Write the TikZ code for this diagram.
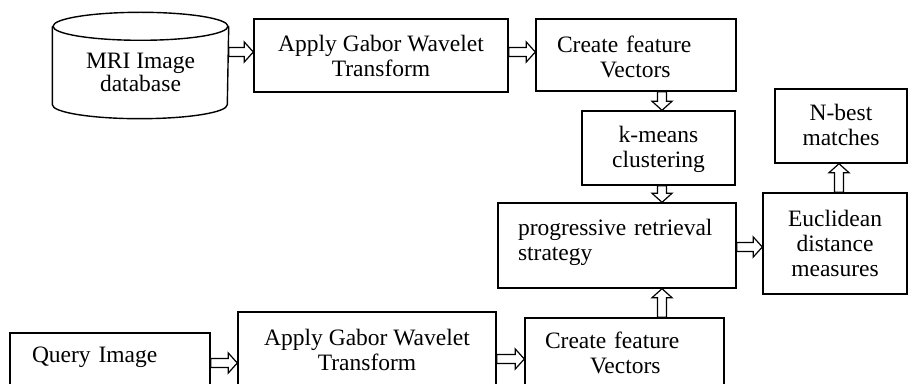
\documentclass[tikz,border=0pt]{standalone}
\usepackage{fontspec}
\setmainfont{Liberation Serif}
\usetikzlibrary{calc}

% hollow block arrows between named nodes
\newcommand\harrow[3]{% from the east side of #1 to the west side of #2, at height #3
  \draw[arrowline] let \p1=(#1.east), \p2=(#2.west) in
    (\x1,#3+4.5) -- (\x2-9,#3+4.5) -- (\x2-9,#3+10) -- (\x2,#3)
    -- (\x2-9,#3-10) -- (\x2-9,#3-4.5) -- (\x1,#3-4.5) -- cycle;}
\newcommand\arrowdown[3]{% from the south side of #1 to the north side of #2, at x = #3
  \draw[arrowline] let \p1=(#1.south), \p2=(#2.north) in
    (#3-4.5,\y1) -- (#3-4.5,\y2+9) -- (#3-10,\y2+9) -- (#3,\y2)
    -- (#3+10,\y2+9) -- (#3+4.5,\y2+9) -- (#3+4.5,\y1) -- cycle;}
\newcommand\arrowup[3]{% from the north side of #1 to the south side of #2, at x = #3
  \draw[arrowline] let \p1=(#1.north), \p2=(#2.south) in
    (#3-4.5,\y1) -- (#3-4.5,\y2-9) -- (#3-10,\y2-9) -- (#3,\y2)
    -- (#3+10,\y2-9) -- (#3+4.5,\y2-9) -- (#3+4.5,\y1) -- cycle;}

\begin{document}
\begin{tikzpicture}[x=1pt,y=1pt,
  box/.style={draw, line width=1.4pt, rectangle, inner sep=0pt,
    font=\fontsize{23.5}{25}\selectfont},
  arrowline/.style={line width=1.2pt, fill=white, line join=miter}]
\useasboundingbox (0,0) rectangle (909,383);
\fill[white] (0,0) rectangle (909,383);
\clip (0,0) rectangle (909,383);

% database cylinder
\node[box, draw=none, minimum width=175, minimum height=91, align=center,
  font=\fontsize{23.5}{23}\selectfont]
  (db) at (140.5,310.5) {MRI Image\\database};
\draw[line width=1.4pt] (db.north west) -- ([yshift=14pt]db.south west)
  arc[start angle=180, end angle=360, x radius=87.5pt, y radius=14pt]
  -- (db.north east);
\draw[line width=1.4pt] (db.north) ellipse[x radius=87.5pt, y radius=14pt];

% database branch
\node[box, minimum width=254, minimum height=73, align=center]
  (g1) at (381,327.5) {Apply Gabor Wavelet\\Transform};
\node[box, minimum width=200, minimum height=72, text width=158, inner xsep=21,
  align=left, text depth=22]
  (f1) at (636,328) {Create feature\\\hspace*{43pt}Vectors};
\node[box, minimum width=153, minimum height=74, align=center, text depth=3]
  (km) at (658.5,235) {k-means\\clustering};
\node[box, minimum width=238, minimum height=85, text width=198, inner xsep=20,
  align=left, text depth=37]
  (pr) at (617,137.5) {progressive retrieval\\strategy};
\node[box, minimum width=144, minimum height=101, align=center]
  (eu) at (835,139.5) {Euclidean\\distance\\measures};
\node[box, minimum width=132, minimum height=74, align=center, text depth=3]
  (nb) at (841,257) {N-best\\matches};

% query branch
\node[box, minimum width=200, minimum height=60, text width=156, inner xsep=22,
  align=left, text depth=16]
  (qi) at (110,20) {Query Image};
\node[box, minimum width=258, minimum height=86, align=center, text depth=11]
  (g2) at (367,28) {Apply Gabor Wavelet\\Transform};
\node[box, minimum width=199, minimum height=80, text width=159, inner xsep=20,
  align=left, text depth=36]
  (f2) at (624.5,25) {Create feature\\\hspace*{45pt}Vectors};

% connectors
\harrow{db}{g1}{331}
\harrow{g1}{f1}{331}
\arrowdown{f1}{km}{662}
\arrowdown{km}{pr}{662}
\harrow{pr}{eu}{136}
\arrowup{eu}{nb}{839}
\harrow{qi}{g2}{20}
\harrow{g2}{f2}{24}
\arrowup{f2}{pr}{662}
\end{tikzpicture}
\end{document}
